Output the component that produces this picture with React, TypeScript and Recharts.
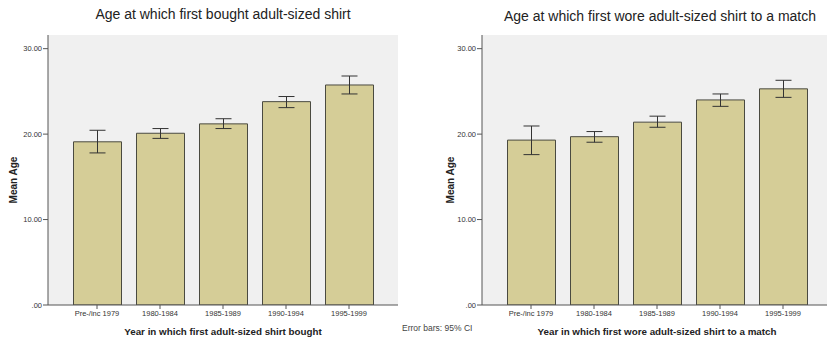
import { BarChart, Bar, XAxis, YAxis, ErrorBar, CartesianGrid } from "recharts";

const periods = ["Pre-/inc 1979", "1980-1984", "1985-1989", "1990-1994", "1995-1999"];

// mean age with lower / upper 95% CI bounds
const boughtMean = [19.1, 20.1, 21.2, 23.8, 25.75];
const boughtLow = [17.8, 19.5, 20.65, 23.1, 24.7];
const boughtHigh = [20.45, 20.65, 21.8, 24.4, 26.8];

const woreMean = [19.3, 19.7, 21.4, 24.0, 25.3];
const woreLow = [17.6, 19.05, 20.8, 23.25, 24.3];
const woreHigh = [20.95, 20.3, 22.1, 24.7, 26.3];

const yTicks = [0, 10, 20, 30];

const FONT = '"Liberation Sans", Arial, sans-serif';
const BAR_FILL = "#d5cd97";
const FRAME = "#6e6e6e";

function buildRows(mean: number[], low: number[], high: number[]) {
  return periods.map((period, i) => ({
    period,
    mean: mean[i],
    ci: [mean[i] - low[i], high[i] - mean[i]],
  }));
}

const fmtTick = (v: number) => (v === 0 ? ".00" : v.toFixed(2));

interface AgeChartProps {
  rows: ReturnType<typeof buildRows>;
  xTitle: string;
  axisWidth: number;
  rightMargin: number;
  yTitleX: number;
}

function AgeChart({ rows, xTitle, axisWidth, rightMargin, yTitleX }: AgeChartProps) {
  const yTitle = ({ viewBox }: any) => {
    const cy = viewBox.y + viewBox.height / 2 + 10;
    return (
      <text
        x={yTitleX}
        y={cy}
        transform={`rotate(-90, ${yTitleX}, ${cy})`}
        textAnchor="middle"
        dominantBaseline="central"
        fontSize={10}
        fontWeight="bold"
        fill="#222"
        fontFamily={FONT}
      >
        Mean Age
      </text>
    );
  };

  return (
    <BarChart
      width={420}
      height={346}
      data={rows}
      margin={{ top: 35, right: rightMargin, bottom: 0, left: 0 }}
      barSize={48}
    >
      <CartesianGrid horizontal={false} vertical={false} fill="#f0f0f0" />
      <XAxis
        dataKey="period"
        height={41}
        padding={{ left: 17.5, right: 17.5 }}
        stroke="#555"
        tickSize={4}
        tickMargin={2}
        tick={{ fontSize: 7.5, fill: "#333", fontFamily: FONT }}
        interval={0}
        label={{
          value: xTitle,
          position: "insideBottom",
          offset: 11,
          fontSize: 9.8,
          fontWeight: "bold",
          fill: "#222",
          fontFamily: FONT,
        }}
      />
      <XAxis xAxisId="frame" orientation="top" height={0} tick={false} tickLine={false} stroke={FRAME} />
      <YAxis
        width={axisWidth}
        domain={[0, 31.6]}
        ticks={yTicks}
        allowDataOverflow
        tickFormatter={fmtTick}
        stroke="#555"
        tickSize={5}
        tickMargin={1}
        tick={{ fontSize: 7.5, fill: "#333", fontFamily: FONT }}
        label={{ content: yTitle }}
      />
      <YAxis yAxisId="frame" orientation="right" width={0} tick={false} tickLine={false} stroke={FRAME} />
      <Bar dataKey="mean" fill={BAR_FILL} stroke="#4a4a40" strokeWidth={1} isAnimationActive={false}>
        <ErrorBar dataKey="ci" width={8} stroke="#333" strokeWidth={1} direction="y" />
      </Bar>
    </BarChart>
  );
}

export default function App() {
  const bought = buildRows(boughtMean, boughtLow, boughtHigh);
  const wore = buildRows(woreMean, woreLow, woreHigh);

  return (
    <div
      style={{
        position: "absolute",
        top: 0,
        left: 0,
        width: 827,
        height: 346,
        overflow: "hidden",
        background: "#fff",
        fontFamily: FONT,
      }}
    >
      <div style={{ position: "absolute", left: 0, top: 0 }}>
        <AgeChart
          rows={bought}
          xTitle="Year in which first adult-sized shirt bought"
          axisWidth={48}
          rightMargin={22}
          yTitleX={13}
        />
      </div>
      <div style={{ position: "absolute", left: 420, top: 0 }}>
        <AgeChart
          rows={wore}
          xTitle="Year in which first wore adult-sized shirt to a match"
          axisWidth={62}
          rightMargin={8}
          yTitleX={30}
        />
      </div>
      <div
        style={{
          position: "absolute",
          left: 23,
          width: 400,
          top: 6,
          textAlign: "center",
          fontSize: 14,
          color: "#222",
        }}
      >
        Age at which first bought adult-sized shirt
      </div>
      <div
        style={{
          position: "absolute",
          left: 460,
          width: 400,
          top: 8,
          textAlign: "center",
          fontSize: 14,
          color: "#222",
        }}
      >
        Age at which first wore adult-sized shirt to a match
      </div>
      <div style={{ position: "absolute", left: 402, top: 323, fontSize: 8.5, color: "#444" }}>
        Error bars: 95% CI
      </div>
    </div>
  );
}
